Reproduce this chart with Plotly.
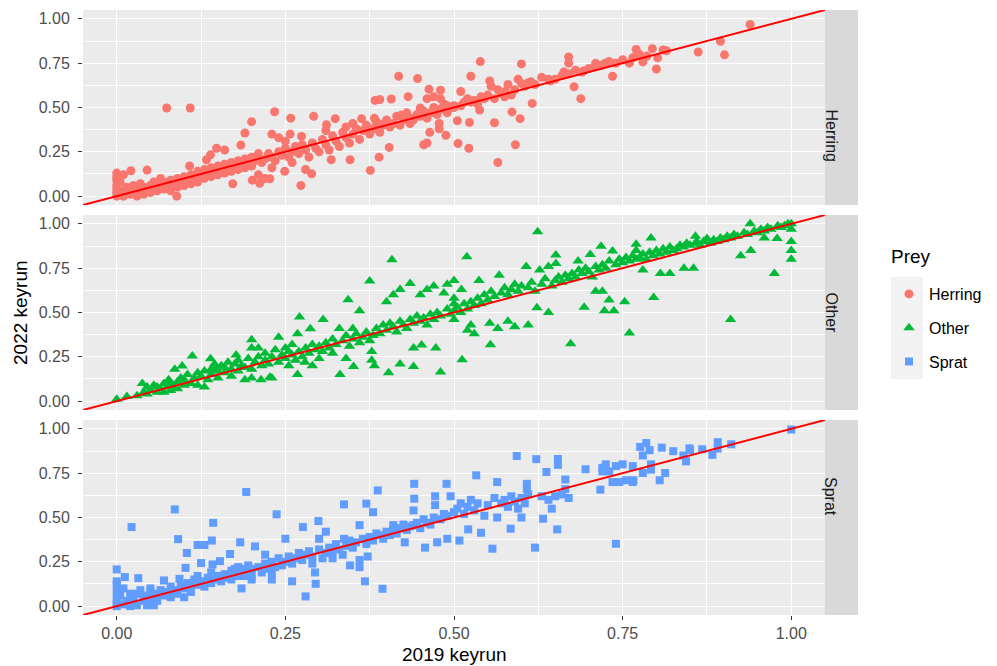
import plotly.graph_objects as go
from plotly.subplots import make_subplots

# ---- data: keyrun 2019 (x) vs keyrun 2022 (y), by prey group ----
prey_groups = ["Herring", "Other", "Sprat"]

herring_pts = [
    (0.00, 0.00), (0.00, 0.02), (0.00, 0.04), (0.00, 0.06), (0.00, 0.09), (0.00, 0.11), (0.00, 0.13),
    (0.005, 0.01), (0.005, 0.08), (0.01, 0.03), (0.01, 0.00), (0.01, 0.12), (0.015, 0.05), (0.02, 0.01),
    (0.02, 0.03), (0.021, 0.143), (0.025, 0.02), (0.025, 0.06), (0.03, 0.00), (0.03, 0.04), (0.035, 0.03),
    (0.035, 0.07), (0.04, 0.01), (0.04, 0.05), (0.045, 0.147), (0.045, 0.03), (0.05, 0.02), (0.05, 0.06),
    (0.055, 0.04), (0.055, 0.08), (0.06, 0.03), (0.06, 0.07), (0.065, 0.05), (0.065, 0.10), (0.07, 0.04),
    (0.07, 0.08), (0.074, 0.497), (0.075, 0.06), (0.08, 0.03), (0.08, 0.09), (0.085, 0.07), (0.089, 0.00),
    (0.09, 0.05), (0.09, 0.10), (0.095, 0.08), (0.10, 0.06), (0.10, 0.11), (0.105, 0.09), (0.108, 0.17),
    (0.109, 0.497), (0.11, 0.07), (0.11, 0.12), (0.115, 0.10), (0.12, 0.14), (0.12, 0.08), (0.125, 0.12),
    (0.13, 0.10), (0.13, 0.15), (0.133, 0.205), (0.135, 0.13), (0.139, 0.233), (0.14, 0.11), (0.14, 0.16),
    (0.145, 0.14), (0.148, 0.27), (0.15, 0.12), (0.15, 0.17), (0.155, 0.15), (0.16, 0.26), (0.16, 0.13),
    (0.16, 0.18), (0.165, 0.16), (0.17, 0.14), (0.17, 0.19), (0.172, 0.07), (0.175, 0.17), (0.18, 0.15),
    (0.18, 0.20), (0.184, 0.288), (0.185, 0.18), (0.19, 0.356), (0.19, 0.16), (0.19, 0.21), (0.195, 0.19),
    (0.20, 0.42), (0.20, 0.17), (0.20, 0.22), (0.201, 0.09), (0.205, 0.20), (0.21, 0.12), (0.21, 0.24),
    (0.212, 0.073), (0.215, 0.19), (0.22, 0.21), (0.22, 0.10), (0.225, 0.24), (0.227, 0.098),
    (0.23, 0.16), (0.23, 0.22), (0.23, 0.35), (0.234, 0.476), (0.235, 0.20), (0.24, 0.25), (0.24, 0.33),
    (0.245, 0.23), (0.249, 0.14), (0.25, 0.27), (0.25, 0.31), (0.255, 0.22), (0.257, 0.35), (0.258, 0.44),
    (0.26, 0.25), (0.26, 0.19), (0.265, 0.28), (0.27, 0.24), (0.273, 0.06), (0.274, 0.337), (0.275, 0.29),
    (0.28, 0.26), (0.28, 0.15), (0.285, 0.22), (0.289, 0.126), (0.29, 0.30), (0.292, 0.45), (0.295, 0.27),
    (0.30, 0.25), (0.305, 0.32), (0.31, 0.29), (0.31, 0.37), (0.311, 0.403), (0.315, 0.26), (0.318, 0.205),
    (0.32, 0.34), (0.324, 0.437), (0.325, 0.31), (0.33, 0.28), (0.335, 0.36), (0.34, 0.33), (0.34, 0.39),
    (0.345, 0.30), (0.346, 0.205), (0.35, 0.35), (0.35, 0.41), (0.355, 0.38), (0.36, 0.32), (0.363, 0.437),
    (0.365, 0.37), (0.37, 0.40), (0.375, 0.35), (0.376, 0.145), (0.38, 0.38), (0.382, 0.44), (0.383, 0.54),
    (0.385, 0.42), (0.389, 0.22), (0.39, 0.36), (0.39, 0.405), (0.39, 0.545), (0.395, 0.40), (0.40, 0.43),
    (0.404, 0.275), (0.405, 0.39), (0.407, 0.548), (0.41, 0.41), (0.415, 0.45), (0.418, 0.676), (0.42, 0.40),
    (0.422, 0.457), (0.425, 0.43), (0.43, 0.47), (0.432, 0.561), (0.435, 0.44), (0.435, 0.41), (0.44, 0.43),
    (0.445, 0.46), (0.446, 0.663), (0.45, 0.45), (0.45, 0.497), (0.455, 0.29), (0.455, 0.48), (0.46, 0.30),
    (0.46, 0.44), (0.46, 0.55), (0.463, 0.603), (0.464, 0.36), (0.465, 0.47), (0.47, 0.50), (0.47, 0.56),
    (0.475, 0.46), (0.478, 0.38), (0.478, 0.41), (0.48, 0.49), (0.48, 0.597), (0.48, 0.55), (0.485, 0.52),
    (0.488, 0.343), (0.49, 0.47), (0.49, 0.51), (0.495, 0.50), (0.50, 0.51), (0.50, 0.50),
    (0.505, 0.425), (0.506, 0.297), (0.51, 0.59), (0.51, 0.51), (0.515, 0.53), (0.52, 0.55), (0.522, 0.27),
    (0.523, 0.416), (0.525, 0.676), (0.525, 0.53), (0.53, 0.54), (0.535, 0.52), (0.538, 0.486), (0.539, 0.759),
    (0.54, 0.56), (0.545, 0.55), (0.55, 0.57), (0.553, 0.65), (0.555, 0.62), (0.56, 0.414), (0.56, 0.55),
    (0.565, 0.19), (0.565, 0.60), (0.57, 0.58), (0.575, 0.56), (0.576, 0.59), (0.58, 0.63), (0.585, 0.57),
    (0.586, 0.475), (0.59, 0.60), (0.591, 0.29), (0.595, 0.66), (0.598, 0.437), (0.60, 0.746), (0.60, 0.635),
    (0.605, 0.62), (0.61, 0.64), (0.614, 0.645), (0.616, 0.523), (0.62, 0.63), (0.63, 0.67), (0.64, 0.66),
    (0.643, 0.65), (0.65, 0.66), (0.66, 0.68), (0.663, 0.70), (0.67, 0.785), (0.67, 0.75), (0.67, 0.69),
    (0.678, 0.617), (0.68, 0.71), (0.688, 0.55), (0.69, 0.70), (0.693, 0.708), (0.70, 0.72), (0.709, 0.73),
    (0.71, 0.75), (0.72, 0.74), (0.724, 0.75), (0.73, 0.76), (0.735, 0.676), (0.74, 0.75), (0.75, 0.77),
    (0.76, 0.75), (0.765, 0.78), (0.77, 0.827), (0.77, 0.79), (0.775, 0.80), (0.78, 0.757), (0.786, 0.79),
    (0.794, 0.832), (0.80, 0.717), (0.802, 0.78), (0.81, 0.825), (0.815, 0.82), (0.862, 0.813),
    (0.895, 0.874), (0.901, 0.797), (0.939, 0.968),
]

other_pts = [
    (0.00, 0.01), (0.015, 0.026), (0.03, 0.03), (0.038, 0.10), (0.04, 0.05), (0.045, 0.04), (0.045, 0.08),
    (0.05, 0.06), (0.055, 0.09), (0.06, 0.05), (0.06, 0.08), (0.065, 0.07), (0.07, 0.10), (0.07, 0.05),
    (0.075, 0.08), (0.077, 0.12), (0.08, 0.06), (0.08, 0.10), (0.085, 0.08), (0.086, 0.18), (0.09, 0.11),
    (0.09, 0.07), (0.095, 0.13), (0.097, 0.198), (0.10, 0.09), (0.10, 0.12), (0.105, 0.15), (0.11, 0.10),
    (0.112, 0.254), (0.115, 0.13), (0.12, 0.16), (0.12, 0.09), (0.125, 0.14), (0.13, 0.17), (0.13, 0.08),
    (0.135, 0.12), (0.139, 0.239), (0.14, 0.15), (0.14, 0.18), (0.145, 0.21), (0.146, 0.19), (0.15, 0.13),
    (0.15, 0.17), (0.155, 0.20), (0.16, 0.16), (0.16, 0.19), (0.165, 0.22), (0.17, 0.14), (0.17, 0.18),
    (0.175, 0.21), (0.177, 0.26), (0.18, 0.17), (0.18, 0.23), (0.185, 0.20), (0.19, 0.12), (0.19, 0.19),
    (0.195, 0.24), (0.20, 0.346), (0.20, 0.30), (0.20, 0.18), (0.20, 0.13), (0.205, 0.22), (0.21, 0.30),
    (0.21, 0.25), (0.214, 0.12), (0.215, 0.20), (0.22, 0.23), (0.22, 0.27), (0.225, 0.21), (0.227, 0.135),
    (0.23, 0.25), (0.23, 0.13), (0.235, 0.29), (0.24, 0.36), (0.24, 0.22), (0.245, 0.26), (0.25, 0.24),
    (0.25, 0.30), (0.255, 0.20), (0.255, 0.28), (0.26, 0.26), (0.26, 0.32), (0.265, 0.23), (0.268, 0.38),
    (0.268, 0.15), (0.27, 0.28), (0.271, 0.475), (0.275, 0.25), (0.279, 0.22), (0.28, 0.30), (0.285, 0.27),
    (0.287, 0.408), (0.29, 0.20), (0.29, 0.32), (0.295, 0.29), (0.30, 0.24), (0.30, 0.31), (0.305, 0.28),
    (0.306, 0.46), (0.31, 0.33), (0.315, 0.30), (0.32, 0.35), (0.32, 0.27), (0.325, 0.32), (0.33, 0.41),
    (0.331, 0.15), (0.335, 0.34), (0.34, 0.24), (0.34, 0.37), (0.343, 0.572), (0.345, 0.31), (0.35, 0.41),
    (0.35, 0.35), (0.351, 0.196), (0.355, 0.38), (0.36, 0.51), (0.36, 0.33), (0.365, 0.36), (0.37, 0.39),
    (0.375, 0.678), (0.375, 0.34), (0.378, 0.23), (0.378, 0.28), (0.38, 0.37), (0.382, 0.20), (0.385, 0.41),
    (0.39, 0.38), (0.395, 0.43), (0.40, 0.56), (0.40, 0.40), (0.403, 0.16), (0.405, 0.44), (0.408, 0.798),
    (0.41, 0.60), (0.41, 0.42), (0.415, 0.39), (0.42, 0.21), (0.42, 0.63), (0.42, 0.45), (0.425, 0.43),
    (0.43, 0.41), (0.435, 0.663), (0.435, 0.46), (0.44, 0.30), (0.44, 0.196), (0.44, 0.44), (0.445, 0.48),
    (0.45, 0.60), (0.45, 0.45), (0.452, 0.316), (0.455, 0.47), (0.46, 0.63), (0.46, 0.43), (0.465, 0.49),
    (0.47, 0.65), (0.47, 0.46), (0.473, 0.30), (0.475, 0.50), (0.48, 0.164), (0.48, 0.48), (0.485, 0.61),
    (0.49, 0.52), (0.49, 0.66), (0.495, 0.49), (0.50, 0.58), (0.50, 0.68), (0.50, 0.55), (0.50, 0.46),
    (0.50, 0.51), (0.505, 0.53), (0.51, 0.50), (0.511, 0.63), (0.512, 0.233), (0.515, 0.55), (0.519, 0.814),
    (0.52, 0.40), (0.52, 0.52), (0.525, 0.43), (0.525, 0.56), (0.53, 0.38), (0.53, 0.54), (0.535, 0.58),
    (0.537, 0.68), (0.54, 0.55), (0.545, 0.60), (0.55, 0.57), (0.553, 0.44), (0.554, 0.318), (0.555, 0.62),
    (0.56, 0.59), (0.565, 0.41), (0.567, 0.71), (0.57, 0.61), (0.575, 0.64), (0.58, 0.45), (0.58, 0.60),
    (0.585, 0.63), (0.59, 0.42), (0.59, 0.66), (0.595, 0.62), (0.60, 0.65), (0.607, 0.76), (0.61, 0.43),
    (0.61, 0.64), (0.615, 0.67), (0.62, 0.62), (0.623, 0.527), (0.624, 0.955), (0.627, 0.74), (0.63, 0.66),
    (0.635, 0.69), (0.64, 0.50), (0.64, 0.76), (0.645, 0.65), (0.65, 0.68), (0.651, 0.825), (0.651, 0.776),
    (0.655, 0.70), (0.66, 0.67), (0.665, 0.71), (0.67, 0.69), (0.673, 0.324), (0.675, 0.72), (0.68, 0.70),
    (0.684, 0.79), (0.685, 0.74), (0.69, 0.72), (0.693, 0.53), (0.695, 0.75), (0.70, 0.73), (0.702, 0.827),
    (0.705, 0.70), (0.71, 0.62), (0.71, 0.76), (0.715, 0.74), (0.718, 0.874), (0.72, 0.62), (0.72, 0.77),
    (0.723, 0.51), (0.725, 0.75), (0.73, 0.57), (0.73, 0.79), (0.735, 0.847), (0.737, 0.51), (0.74, 0.77),
    (0.745, 0.80), (0.75, 0.78), (0.753, 0.56), (0.755, 0.81), (0.76, 0.384), (0.76, 0.79), (0.765, 0.82),
    (0.77, 0.885), (0.77, 0.80), (0.77, 0.85), (0.775, 0.81), (0.78, 0.74), (0.78, 0.83), (0.785, 0.80),
    (0.79, 0.84), (0.792, 0.92), (0.795, 0.82), (0.796, 0.584), (0.80, 0.85), (0.805, 0.83), (0.806, 0.72),
    (0.81, 0.86), (0.815, 0.84), (0.82, 0.72), (0.82, 0.87), (0.825, 0.85), (0.83, 0.86), (0.835, 0.88),
    (0.84, 0.87), (0.841, 0.75), (0.845, 0.89), (0.85, 0.88), (0.855, 0.75), (0.858, 0.93), (0.858, 0.89),
    (0.86, 0.90), (0.865, 0.88), (0.87, 0.90), (0.875, 0.917), (0.88, 0.89), (0.885, 0.91), (0.89, 0.90),
    (0.895, 0.92), (0.90, 0.91), (0.905, 0.93), (0.91, 0.46), (0.91, 0.92), (0.915, 0.94), (0.92, 0.93),
    (0.925, 0.82), (0.93, 0.95), (0.935, 0.94), (0.939, 1.0), (0.94, 0.85), (0.945, 0.96), (0.95, 0.95),
    (0.955, 0.97), (0.96, 0.96), (0.96, 0.92), (0.965, 0.98), (0.97, 0.97), (0.975, 0.72), (0.979, 0.917),
    (0.98, 0.99), (0.985, 0.98), (0.99, 0.99), (0.995, 1.0), (1.0, 1.0), (1.0, 0.97), (1.0, 0.90),
    (1.0, 0.85), (1.0, 0.80),
]

sprat_pts = [
    (0.00, 0.00), (0.00, 0.02), (0.00, 0.04), (0.00, 0.08), (0.00, 0.12), (0.00, 0.14), (0.00, 0.207),
    (0.005, 0.06), (0.01, 0.01), (0.01, 0.10), (0.012, 0.164), (0.015, 0.03), (0.02, 0.07), (0.02, 0.00),
    (0.022, 0.446), (0.025, 0.05), (0.03, 0.07), (0.03, 0.005), (0.032, 0.158), (0.035, 0.09), (0.04, 0.03),
    (0.04, 0.06), (0.045, 0.005), (0.05, 0.10), (0.05, 0.08), (0.05, 0.04), (0.055, 0.005), (0.06, 0.07),
    (0.06, 0.03), (0.065, 0.09), (0.07, 0.145), (0.07, 0.06), (0.075, 0.08), (0.08, 0.05), (0.08, 0.11),
    (0.085, 0.09), (0.086, 0.546), (0.09, 0.07), (0.091, 0.378), (0.093, 0.154), (0.095, 0.12), (0.10, 0.05),
    (0.10, 0.10), (0.102, 0.216), (0.104, 0.30), (0.105, 0.13), (0.11, 0.11), (0.11, 0.08), (0.115, 0.15),
    (0.12, 0.345), (0.12, 0.12), (0.12, 0.17), (0.125, 0.243), (0.125, 0.14), (0.13, 0.345), (0.13, 0.11),
    (0.135, 0.16), (0.14, 0.13), (0.14, 0.19), (0.141, 0.37), (0.142, 0.235), (0.143, 0.47), (0.145, 0.15),
    (0.15, 0.17), (0.153, 0.254), (0.155, 0.14), (0.16, 0.18), (0.165, 0.16), (0.168, 0.294), (0.17, 0.20),
    (0.17, 0.15), (0.175, 0.21), (0.18, 0.17), (0.18, 0.22), (0.183, 0.36), (0.185, 0.10), (0.185, 0.19),
    (0.19, 0.21), (0.19, 0.17), (0.192, 0.644), (0.195, 0.23), (0.20, 0.17), (0.20, 0.15), (0.20, 0.21),
    (0.205, 0.337), (0.21, 0.22), (0.215, 0.19), (0.22, 0.29), (0.22, 0.24), (0.225, 0.21), (0.23, 0.15),
    (0.23, 0.19), (0.23, 0.25), (0.235, 0.22), (0.237, 0.518), (0.24, 0.27), (0.245, 0.23), (0.25, 0.38),
    (0.25, 0.25), (0.255, 0.28), (0.26, 0.14), (0.26, 0.24), (0.265, 0.27), (0.27, 0.30), (0.275, 0.26),
    (0.276, 0.446), (0.28, 0.055), (0.28, 0.29), (0.285, 0.31), (0.29, 0.24), (0.29, 0.28), (0.294, 0.19),
    (0.295, 0.126), (0.299, 0.48), (0.30, 0.32), (0.30, 0.38), (0.305, 0.27), (0.31, 0.30), (0.31, 0.42),
    (0.315, 0.33), (0.32, 0.27), (0.32, 0.31), (0.325, 0.35), (0.33, 0.32), (0.335, 0.29), (0.337, 0.574),
    (0.337, 0.38), (0.34, 0.34), (0.345, 0.37), (0.346, 0.23), (0.35, 0.33), (0.355, 0.36), (0.36, 0.457),
    (0.36, 0.22), (0.36, 0.26), (0.365, 0.38), (0.368, 0.14), (0.37, 0.578), (0.37, 0.35), (0.372, 0.28),
    (0.375, 0.39), (0.38, 0.53), (0.38, 0.37), (0.385, 0.41), (0.387, 0.653), (0.39, 0.40), (0.394, 0.098),
    (0.395, 0.38), (0.40, 0.42), (0.405, 0.40), (0.41, 0.457), (0.41, 0.43), (0.415, 0.41), (0.42, 0.44),
    (0.425, 0.46), (0.427, 0.36), (0.43, 0.43), (0.435, 0.45), (0.44, 0.54), (0.44, 0.457), (0.441, 0.69),
    (0.441, 0.606), (0.445, 0.47), (0.45, 0.44), (0.455, 0.49), (0.457, 0.33), (0.46, 0.47), (0.465, 0.46),
    (0.47, 0.50), (0.472, 0.57), (0.472, 0.62), (0.475, 0.36), (0.48, 0.49), (0.485, 0.52), (0.489, 0.69),
    (0.49, 0.38), (0.49, 0.51), (0.495, 0.62), (0.50, 0.53), (0.505, 0.55), (0.508, 0.37), (0.51, 0.58),
    (0.515, 0.52), (0.52, 0.56), (0.521, 0.433), (0.525, 0.60), (0.53, 0.54), (0.533, 0.738), (0.535, 0.58),
    (0.54, 0.414), (0.545, 0.51), (0.55, 0.57), (0.557, 0.324), (0.56, 0.61), (0.564, 0.70), (0.564, 0.50),
    (0.57, 0.58), (0.575, 0.60), (0.58, 0.56), (0.584, 0.437), (0.585, 0.62), (0.59, 0.59), (0.593, 0.847),
    (0.595, 0.55), (0.60, 0.50), (0.60, 0.61), (0.605, 0.58), (0.608, 0.66), (0.608, 0.69), (0.61, 0.63),
    (0.62, 0.33), (0.622, 0.829), (0.63, 0.62), (0.632, 0.493), (0.637, 0.757), (0.64, 0.60), (0.645, 0.55),
    (0.65, 0.62), (0.653, 0.433), (0.654, 0.83), (0.654, 0.797), (0.66, 0.63), (0.665, 0.66), (0.665, 0.714),
    (0.67, 0.61), (0.695, 0.772), (0.717, 0.657), (0.72, 0.78), (0.72, 0.76), (0.725, 0.80), (0.73, 0.76),
    (0.735, 0.70), (0.74, 0.352), (0.74, 0.79), (0.745, 0.70), (0.75, 0.80), (0.755, 0.71), (0.765, 0.70),
    (0.765, 0.79), (0.766, 0.71), (0.776, 0.898), (0.78, 0.751), (0.78, 0.85), (0.785, 0.92), (0.79, 0.88),
    (0.792, 0.80), (0.792, 0.77), (0.805, 0.71), (0.808, 0.894), (0.813, 0.751), (0.825, 0.874), (0.84, 0.85),
    (0.844, 0.817), (0.849, 0.89), (0.85, 0.88), (0.868, 0.885), (0.883, 0.853), (0.891, 0.925),
    (0.891, 0.889), (0.911, 0.913), (1.0, 0.996),
]

points_by_prey = {"Herring": herring_pts, "Other": other_pts, "Sprat": sprat_pts}
colors = {"Herring": "#F8766D", "Other": "#00BA38", "Sprat": "#619CFF"}
symbols = {"Herring": "circle", "Other": "triangle-up", "Sprat": "square"}
sizes = {"Herring": 9, "Other": 10, "Sprat": 8}

tick_vals = [0, 0.25, 0.5, 0.75, 1.0]
tick_text = ["0.00", "0.25", "0.50", "0.75", "1.00"]
axis_range = [-0.05, 1.05]

FONT = "Liberation Sans, Arial, sans-serif"

# ---- figure geometry (pixels) ----
W, H = 997, 666
M_L, M_R, M_T, M_B = 83, 172, 10, 51
plot_w = W - M_L - M_R
plot_h = H - M_T - M_B
gap_px = 10


def px_x(px):
    return (px - M_L) / plot_w


def px_y(py):
    return (H - M_B - py) / plot_h


fig = make_subplots(rows=3, cols=1, shared_xaxes=True, vertical_spacing=gap_px / plot_h)

for i, name in enumerate(prey_groups, start=1):
    pts = points_by_prey[name]
    fig.add_trace(
        go.Scatter(
            x=[p[0] for p in pts],
            y=[p[1] for p in pts],
            mode="markers",
            name=name,
            legendgroup=name,
            marker=dict(color=colors[name], symbol=symbols[name], size=sizes[name], line=dict(width=0)),
            showlegend=True,
        ),
        row=i, col=1,
    )
    # identity reference line y = x
    fig.add_trace(
        go.Scatter(
            x=axis_range, y=axis_range, mode="lines",
            line=dict(color="#FF0000", width=2),
            showlegend=False, hoverinfo="skip",
        ),
        row=i, col=1,
    )

grid_major = dict(showgrid=True, gridcolor="white", gridwidth=1.1)
minor = dict(tick0=0.125, dtick=0.25, showgrid=True, gridcolor="white", gridwidth=0.5, ticklen=0)
tick_font = dict(family=FONT, size=16, color="#4D4D4D")

for i in range(1, 4):
    fig.update_xaxes(
        range=axis_range, tickvals=tick_vals, ticktext=tick_text, zeroline=False, automargin=False,
        ticks="outside" if i == 3 else "", ticklen=4, tickcolor="#333333", tickwidth=1,
        tickfont=tick_font, showticklabels=(i == 3), minor=minor, **grid_major, row=i, col=1,
    )
    fig.update_yaxes(
        range=axis_range, tickvals=tick_vals, ticktext=tick_text, zeroline=False, automargin=False,
        ticks="outside", ticklen=4, tickcolor="#333333", tickwidth=1, ticklabelstandoff=5,
        tickfont=tick_font, minor=minor, **grid_major, row=i, col=1,
    )

# facet strips on the right
strip_w = 33 / plot_w
shapes = []
annotations = []
for i, name in enumerate(prey_groups, start=1):
    yaxis = fig.layout["yaxis" if i == 1 else f"yaxis{i}"]
    d0, d1 = yaxis.domain
    shapes.append(dict(type="rect", xref="paper", yref="paper", x0=1.0, x1=1.0 + strip_w, y0=d0, y1=d1,
                       fillcolor="#D9D9D9", line=dict(width=0), layer="below"))
    annotations.append(dict(text=name, xref="paper", yref="paper", x=1.0 + strip_w / 2, y=(d0 + d1) / 2,
                            showarrow=False, textangle=90,
                            font=dict(family=FONT, size=16, color="#1A1A1A")))

# axis titles
annotations.append(dict(text="2019 keyrun", xref="paper", yref="paper", x=0.5, y=px_y(654),
                        xanchor="center", yanchor="middle", showarrow=False,
                        font=dict(family=FONT, size=19, color="#000000")))
annotations.append(dict(text="2022 keyrun", xref="paper", yref="paper", x=px_x(20), y=px_y(313),
                        xanchor="center", yanchor="middle", showarrow=False, textangle=-90,
                        font=dict(family=FONT, size=19, color="#000000")))

# legend title
annotations.append(dict(text="Prey", xref="paper", yref="paper", x=px_x(889), y=px_y(256),
                        xanchor="left", yanchor="middle", showarrow=False,
                        font=dict(family=FONT, size=19, color="#000000")))

# grey key backgrounds in the legend
for k in range(3):
    top = 277 + k * 34
    shapes.append(dict(type="rect", xref="paper", yref="paper", x0=px_x(891), x1=px_x(923),
                       y0=px_y(top + 34), y1=px_y(top),
                       fillcolor="#F2F2F2", line=dict(width=0), layer="below"))

fig.update_layout(
    width=W, height=H,
    margin=dict(l=M_L, r=M_R, t=M_T, b=M_B, autoexpand=False),
    paper_bgcolor="white",
    plot_bgcolor="#EBEBEB",
    shapes=shapes,
    annotations=annotations,
    legend=dict(
        font=dict(family=FONT, size=16, color="#000000"),
        x=px_x(889), y=px_y(277), xanchor="left", yanchor="top",
        bgcolor="rgba(0,0,0,0)", tracegroupgap=10,
    ),
    showlegend=True,
)

fig.write_html("out.html")
